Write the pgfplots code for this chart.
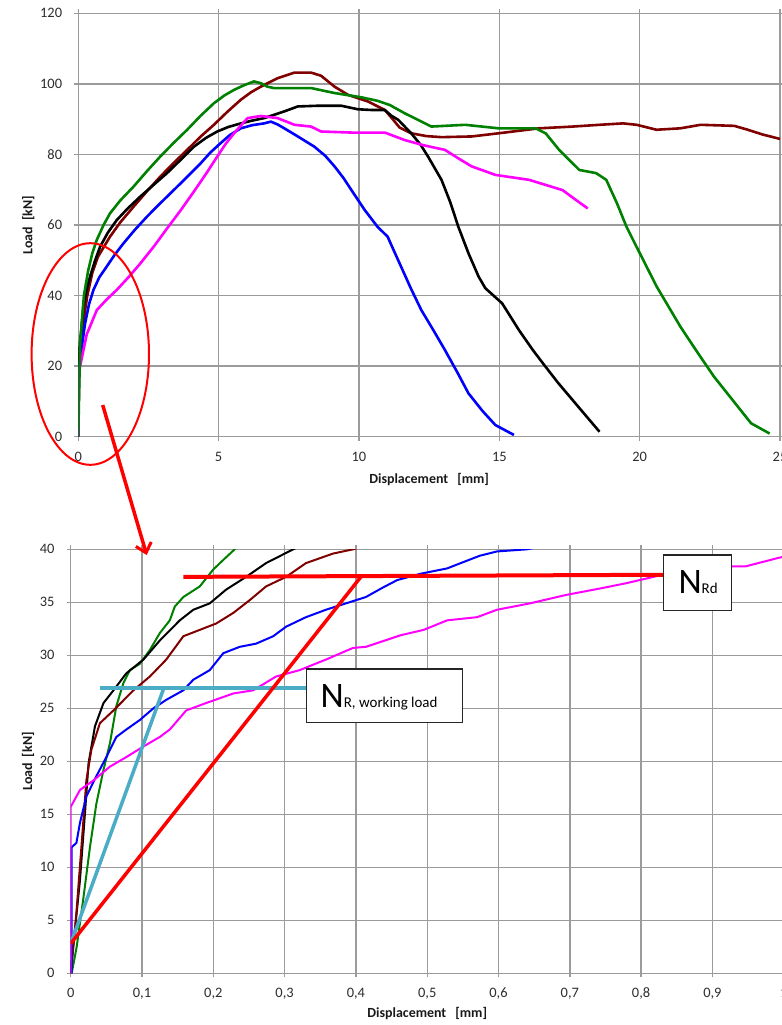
\documentclass[border=0pt]{standalone}
\usepackage{fontspec}
\setmainfont{Carlito}
\usepackage{pgfplots}
\pgfplotsset{compat=1.18}
\usetikzlibrary{arrows.meta}
\definecolor{grd}{RGB}{155,155,155}
\definecolor{cgreen}{RGB}{0,128,0}
\definecolor{cbrown}{RGB}{128,0,0}
\definecolor{cblue}{RGB}{0,0,255}
\definecolor{cmag}{RGB}{255,0,255}
\definecolor{cred}{RGB}{255,0,0}
\definecolor{ccyan}{RGB}{75,172,198}
\definecolor{tlab}{RGB}{45,45,45}
\newcommand{\tlfont}{\fontsize{14.5}{16}\selectfont}
\pgfplotsset{
  mystyle/.style={
    scale only axis,
    grid=major,
    grid style={grd, line width=1.4bp},
    axis line style={grd, line width=1.4bp},
    tick style={grd, line width=1.4bp},
    tick align=outside,
    major tick length=4bp,
    /pgf/number format/assume math mode=true,
    yticklabel style={font=\tlfont, text=tlab, anchor=east, inner sep=0pt, xshift=-12bp},
    xticklabel style={font=\tlfont, text=tlab, anchor=center, inner sep=0pt, yshift=-16bp},
    label style={font=\bfseries\fontsize{14}{16}\selectfont, text=black!90},
    clip mode=individual,
  }
}
\begin{document}
\begin{tikzpicture}[x=1bp,y=1bp]
\useasboundingbox (0,-1025) rectangle (782,0);
% ---------------- top axis ----------------
\begin{axis}[mystyle,
  at={(78.3bp,-436.7bp)}, anchor=south west,
  width=701.7bp, height=423.4bp,
  xmin=0, xmax=25, ymin=0, ymax=120,
  xtick={0,5,10,15,20,25}, ytick={0,20,40,60,80,100,120},
  xlabel={Displacement\hspace{9bp}[mm]},
  ylabel={Load\hspace{6bp}[kN]},
  xlabel style={at={(axis description cs:0.5,-0.1016)}, anchor=center},
  ylabel style={at={(axis description cs:-0.0713,0.5)}, anchor=center},
  every axis plot/.append style={line width=2.6bp, line join=round},
]
\addplot[cbrown] coordinates {(0,0) (0.005,3) (0.015,12) (0.022,18.2) (0.03,21) (0.06,24.8) (0.11,28) (0.2,33.5) (0.32,40) (0.5,46.5) (0.7,51) (1.13,56.7) (1.5,60.8) (1.97,65.2) (2.45,69.6) (2.92,73.7) (3.4,77.6) (3.88,81.3) (4.35,85) (4.83,88.4) (5.3,92) (5.79,95.5) (6.15,97.6) (6.5,99.2) (7.1,101.6) (7.7,103.2) (8.29,103.2) (8.65,102.3) (9.13,99.2) (9.61,96.9) (10.32,95) (10.92,92.6) (11.2,90) (11.45,87.6) (11.86,86) (12.4,85.2) (12.94,84.9) (14.02,85.1) (14.98,86) (16.41,87.4) (17.61,87.9) (18.57,88.4) (19.41,88.8) (19.89,88.4) (20.6,87) (21.45,87.4) (22.17,88.4) (23.37,88.1) (23.85,87) (24.4,85.6) (25,84.4)};
\addplot[black] coordinates {(0,0) (0.01,7) (0.02,15) (0.03,22) (0.06,26.7) (0.1,29.6) (0.18,36.9) (0.28,41.2) (0.42,45.4) (0.6,50) (0.78,53.9) (1.05,57.8) (1.37,61.4) (1.75,64.6) (2.2,68) (2.7,71.5) (3.16,74.7) (3.65,78.5) (4.12,82.2) (4.55,84.7) (4.95,86.5) (5.35,87.8) (5.79,88.8) (6.2,89.6) (6.62,90.3) (7.34,92.2) (7.82,93.6) (8.53,93.8) (9.37,93.8) (9.96,92.8) (10.44,92.6) (10.92,92.6) (11.15,91) (11.4,89.8) (11.86,86) (12.2,82.7) (12.46,79.4) (12.94,72.8) (13.25,66.5) (13.54,59.5) (13.9,52) (14.26,45.4) (14.5,42.1) (15.1,37.8) (15.7,30.2) (16.2,24.5) (16.65,19.8) (17.1,15.2) (17.61,10.4) (18.1,5.8) (18.57,1.4)};
\addplot[cblue] coordinates {(0,0) (0.003,11.7) (0.01,12.3) (0.02,16.5) (0.05,20.4) (0.1,24) (0.24,32) (0.38,37.5) (0.54,41.6) (0.75,45.2) (1.01,48.2) (1.3,51.6) (1.61,54.8) (2.0,58.5) (2.45,62.4) (2.9,66) (3.4,69.9) (3.9,73.8) (4.36,77.5) (4.7,80.5) (5.07,83.2) (5.4,85.5) (5.79,87.4) (6.2,88.3) (6.62,88.8) (6.86,89.3) (7.1,88.5) (7.34,87.4) (7.82,85.1) (8.41,82.2) (8.8,79.6) (9.13,76.6) (9.45,73.3) (9.73,69.9) (10.2,64.3) (10.66,59.5) (11.02,56.7) (11.25,52.6) (11.5,48.2) (11.85,42) (12.22,35.9) (12.65,30.2) (13.06,24.6) (13.5,18.3) (13.9,12.3) (14.4,7.3) (14.86,3.3) (15.52,0.5)};
\addplot[cmag] coordinates {(0,0) (0,15.7) (0.013,17.3) (0.06,19.8) (0.3,29) (0.66,35.9) (1.0,38.8) (1.37,41.6) (1.8,45.3) (2.2,49) (2.7,54) (3.16,59) (3.65,64.2) (4.12,69.5) (4.55,74.5) (4.95,79.4) (5.25,83) (5.55,86) (6.03,90.3) (6.5,90.9) (7.1,90.3) (7.7,88.4) (8.29,87.9) (8.65,86.5) (9.73,86.2) (10.92,86.2) (11.62,84.1) (12.3,82.6) (13.06,81.3) (13.6,78.6) (14.02,76.6) (14.86,74.2) (16.06,72.8) (17.25,69.9) (17.73,67.1) (18.15,64.7)};
\addplot[cgreen] coordinates {(0,0) (0.03,13) (0.07,27) (0.12,32) (0.2,40) (0.35,47) (0.5,52) (0.66,55.8) (0.9,60) (1.13,63.3) (1.5,67) (1.97,70.9) (2.45,75.3) (2.92,79.4) (3.4,83.3) (3.88,87) (4.35,90.9) (4.83,94.5) (5.2,96.7) (5.55,98.3) (5.9,99.6) (6.26,100.7) (6.5,100.2) (6.74,99.2) (6.98,98.8) (8.3,98.8) (9.13,97.4) (10.08,96.2) (10.66,95.2) (11.1,94) (11.62,91.7) (12.1,89.8) (12.58,87.9) (13.78,88.4) (14.98,87.4) (16.29,87.4) (16.65,86) (17.13,81.3) (17.85,75.6) (18.45,74.7) (18.81,72.8) (19.2,66) (19.53,59.5) (20.1,50.5) (20.61,42.5) (21.45,31.2) (22.05,24) (22.65,17) (23.3,10.5) (23.97,3.8) (24.63,0.9)};
\end{axis}
% ---------------- bottom axis ----------------
\begin{axis}[mystyle,
  at={(70.7bp,-973.3bp)}, anchor=south west,
  width=713bp, height=424bp,
  xmin=0, xmax=1, ymin=0, ymax=40,
  xtick={0,0.1,...,1.0}, ytick={0,5,...,40},
  xticklabel style={/pgf/number format/.cd, use comma, fixed, precision=1},
  xlabel={Displacement\hspace{9bp}[mm]},
  ylabel={Load\hspace{6bp}[kN]},
  xlabel style={at={(axis description cs:0.5,-0.0943)}, anchor=center},
  ylabel style={at={(axis description cs:-0.0599,0.5)}, anchor=center},
  every axis plot/.append style={line width=2bp, line join=round},
]
\addplot[cgreen] coordinates {(0.0014,0) (0.0084,2.5) (0.018,7.2) (0.027,11.9) (0.036,16) (0.046,19.2) (0.055,21.7) (0.064,25.2) (0.074,27.4) (0.083,28.6) (0.097,29.2) (0.111,30.5) (0.125,32.1) (0.139,33.3) (0.146,34.6) (0.158,35.5) (0.181,36.5) (0.2,38.1) (0.214,39) (0.23,40) (0.24,40.8)};
\addplot[black] coordinates {(0,0) (0.006,4.1) (0.013,8.8) (0.02,15.1) (0.025,19.8) (0.034,23.3) (0.046,25.5) (0.06,26.7) (0.078,28.3) (0.102,29.6) (0.125,31.4) (0.153,33.3) (0.172,34.3) (0.195,34.9) (0.218,36.2) (0.246,37.4) (0.274,38.7) (0.312,40) (0.33,40.6)};
\addplot[cbrown] coordinates {(0,0) (0.008,5.7) (0.015,11.9) (0.022,18.2) (0.029,21.1) (0.041,23.6) (0.06,24.8) (0.088,26.7) (0.111,28) (0.134,29.6) (0.158,31.8) (0.181,32.4) (0.204,33) (0.228,34) (0.251,35.2) (0.274,36.5) (0.302,37.4) (0.33,38.7) (0.368,39.6) (0.396,40) (0.42,40.5)};
\addplot[cblue] coordinates {(0.0014,0) (0.0014,11.9) (0.008,12.3) (0.013,14.2) (0.022,16.7) (0.036,18.6) (0.05,20.4) (0.064,22.3) (0.078,23) (0.097,23.9) (0.116,25) (0.134,25.8) (0.158,26.7) (0.172,27.7) (0.195,28.6) (0.214,30.2) (0.237,30.8) (0.26,31.1) (0.284,31.8) (0.302,32.7) (0.33,33.6) (0.358,34.3) (0.386,34.9) (0.414,35.5) (0.438,36.4) (0.458,37.1) (0.491,37.7) (0.528,38.2) (0.547,38.7) (0.574,39.4) (0.598,39.8) (0.64,40) (0.66,40.3)};
\addplot[cmag] coordinates {(0,0) (0,15.7) (0.013,17.3) (0.032,18.2) (0.055,19.5) (0.078,20.4) (0.102,21.4) (0.125,22.3) (0.139,23) (0.162,24.8) (0.19,25.5) (0.228,26.4) (0.256,26.7) (0.288,28) (0.321,28.6) (0.358,29.6) (0.396,30.7) (0.414,30.8) (0.463,31.9) (0.495,32.4) (0.528,33.3) (0.57,33.6) (0.598,34.3) (0.644,34.9) (0.695,35.7) (0.742,36.3) (0.779,36.8) (0.83,37.6) (0.923,38.4) (0.947,38.4) (0.993,39.2) (1.0,39.3)};
% annotation lines
\addplot[ccyan, line width=4bp] coordinates {(0.041,26.9) (0.33,26.9)};
\addplot[ccyan, line width=3.5bp] coordinates {(0,2.8) (0.13,26.8)};
\addplot[cred, line width=4bp] coordinates {(0.158,37.4) (0.833,37.6)};
\addplot[cred, line width=3.5bp] coordinates {(0,2.8) (0.407,37.4)};
\end{axis}
% label boxes
\draw[black!85, line width=1.3bp, fill=white] (306.5,-669) rectangle (462.7,-722.7);
\node[anchor=base west, inner sep=0pt] at (320.5,-707) {\fontsize{36}{36}\selectfont N\fontsize{15}{15}\selectfont R, working load};
\draw[black!85, line width=1.3bp, fill=white] (663.5,-555) rectangle (731.7,-610.7);
\node[anchor=base west, inner sep=0pt] at (678.3,-593) {\fontsize{36}{36}\selectfont N\fontsize{15}{15}\selectfont Rd};
% ellipse and arrow
\draw[cred, line width=2bp] (90.3,-354) ellipse [x radius=58.7bp, y radius=110.8bp];
\draw[cred, line width=3.5bp, -{Straight Barb[length=9bp, width=16bp, line width=3bp]}] (102.7,-405) -- (146.7,-555);
\end{tikzpicture}
\end{document}
